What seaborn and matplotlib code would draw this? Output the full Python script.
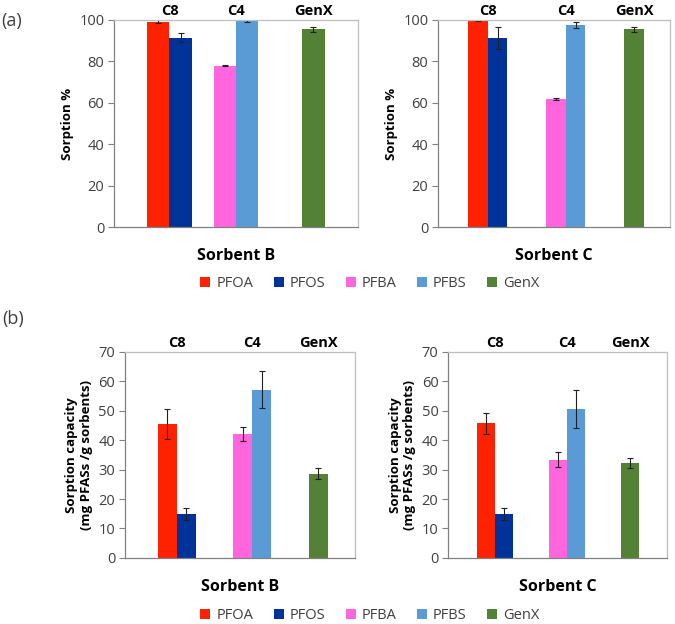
import matplotlib
matplotlib.use("Agg")
import matplotlib.pyplot as plt
import matplotlib.transforms as mtransforms
from matplotlib.patches import Patch
import pandas as pd
import seaborn as sns

# ── data ─────────────────────────────────────────────
compounds = ["PFOA", "PFOS", "PFBA", "PFBS", "GenX"]
colors = ["#FF2200", "#003399", "#FF66DD", "#5B9BD5", "#538135"]
groups = {"C8": ["PFOA", "PFOS"], "C4": ["PFBA", "PFBS"], "GenX": ["GenX"]}

# (a) sorption %
pct_B = [99.2, 91.5, 78.0, 99.6, 95.5]
pct_B_err = [0.8, 2.3, 0.3, 0.8, 1.3]
pct_C = [99.8, 91.2, 61.8, 97.6, 95.5]
pct_C_err = [0.5, 5.2, 0.3, 1.5, 1.3]

# (b) sorption capacity, mg PFASs / g sorbent
cap_B = [45.5, 15.0, 42.2, 57.2, 28.6]
cap_B_err = [5.0, 2.0, 2.4, 6.4, 1.8]
cap_C = [45.7, 15.0, 33.4, 50.7, 32.2]
cap_C_err = [3.5, 2.0, 2.6, 6.4, 1.8]

# category slots along x (blank slots leave the gaps between groups)
slots_short = ["PFOA", "PFOS", " 1", "PFBA", "PFBS", " 2", " 3", "GenX"]
slots_long = ["PFOA", "PFOS", " 1", " 2", "PFBA", "PFBS", " 3", " 4", "GenX"]

plt.rcParams["font.family"] = ["Open Sans", "DejaVu Sans"]
TXT = "#404040"

fig = plt.figure(figsize=(6.75, 6.24), dpi=100)


def panel(rect, vals, errs, slots, xlim, ymax, ystep, ylabel, xlabel):
    ax = fig.add_axes(rect)
    df = pd.DataFrame({"compound": compounds, "value": vals})
    sns.barplot(data=df, x="compound", y="value", hue="compound",
                order=slots, hue_order=compounds, palette=colors,
                width=1, saturation=1, legend=False, ax=ax)
    xs = [slots.index(c) for c in compounds]
    ax.errorbar(xs, vals, yerr=errs, fmt="none", ecolor="#202020",
                elinewidth=0.8, capsize=2, capthick=0.8)
    ax.set_xlim(*xlim)
    ax.set_ylim(0, ymax)
    ax.set_yticks(range(0, ymax + 1, ystep))
    ax.set_xticks([])
    ax.tick_params(axis="y", labelsize=10.5, labelcolor=TXT, color="#808080",
                   length=4, width=0.8, direction="out", pad=3)
    ax.set_ylabel(ylabel, fontsize=9.5, fontweight="bold", color="black",
                  linespacing=1.15)
    ax.set_xlabel(xlabel, fontsize=11.5, fontweight="bold", color="black",
                  labelpad=15)
    for s in ["top", "right"]:
        ax.spines[s].set_color("#BFBFBF")
    for s in ["left", "bottom"]:
        ax.spines[s].set_color("#808080")
    for s in ax.spines.values():
        s.set_linewidth(0.9)
    trans = mtransforms.blended_transform_factory(ax.transData, ax.transAxes)
    for g, members in groups.items():
        gx = sum(slots.index(m) for m in members) / len(members)
        ax.text(gx, 1.01, g, transform=trans, ha="center", va="bottom",
                fontsize=10.5, fontweight="bold", color="black")
    return ax


panel([0.169, 0.636, 0.361, 0.332], pct_B, pct_B_err, slots_short,
      (-2.0, 9.0), 100, 20, "Sorption %", "Sorbent B")
panel([0.649, 0.636, 0.344, 0.332], pct_C, pct_C_err, slots_long,
      (-2.05, 9.85), 100, 20, "Sorption %", "Sorbent C")
panel([0.185, 0.106, 0.341, 0.330], cap_B, cap_B_err, slots_long,
      (-2.25, 9.95), 70, 10,
      "Sorption capacity\n(mg PFASs /g sorbents)", "Sorbent B")
panel([0.664, 0.106, 0.324, 0.330], cap_C, cap_C_err, slots_long,
      (-2.1, 10.05), 70, 10,
      "Sorption capacity\n(mg PFASs /g sorbents)", "Sorbent C")

handles = [Patch(facecolor=c, edgecolor="none", label=n)
           for n, c in zip(compounds, colors)]
for y in (0.545, 0.013):
    fig.legend(handles=handles, loc="center", bbox_to_anchor=(0.548, y),
               ncol=5, frameon=False, fontsize=10.5, handlelength=0.7,
               handleheight=0.7, handletextpad=0.4, columnspacing=1.4,
               labelcolor=TXT)

fig.text(0.002, 0.966, "(a)", fontsize=13, color=TXT, va="center")
fig.text(0.004, 0.489, "(b)", fontsize=13, color=TXT, va="center")

fig.savefig("out.png", dpi=100)
plt.close(fig)
